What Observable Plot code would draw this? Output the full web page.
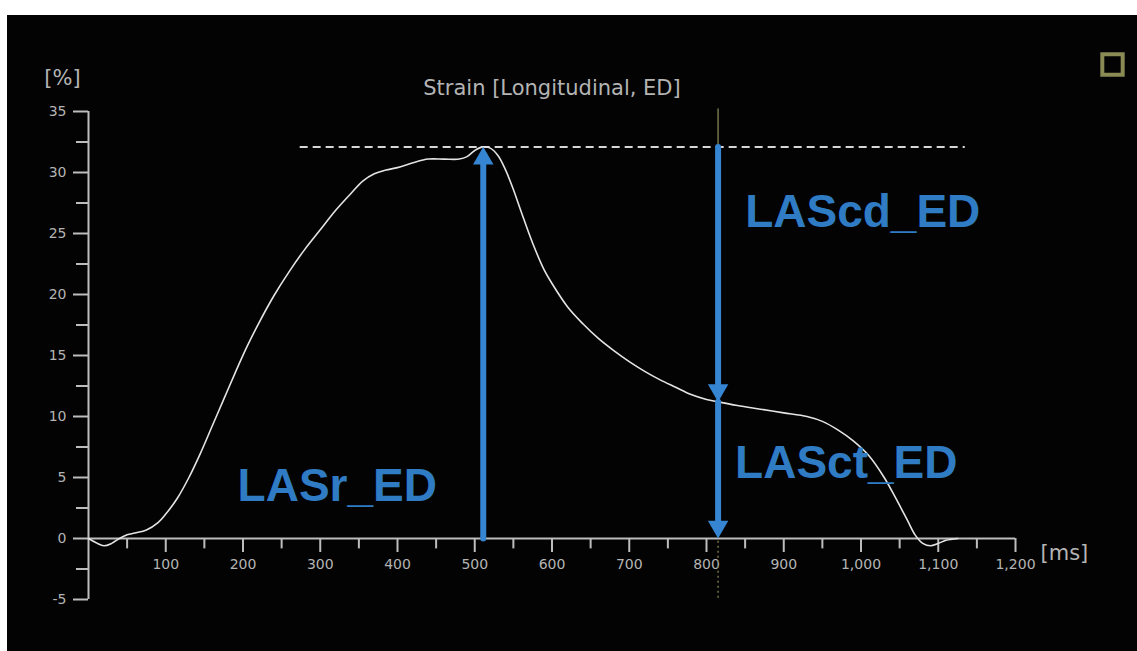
<!DOCTYPE html>
<html>
<head>
<meta charset="utf-8">
<script src="https://cdn.jsdelivr.net/npm/d3@7"></script>
<script src="https://cdn.jsdelivr.net/npm/@observablehq/plot@0.6"></script>
<style>
  html, body { margin: 0; padding: 0; background: #ffffff; }
  #panel { position: absolute; left: 7px; top: 15px; width: 1130px; height: 636px; background: #030303; overflow: hidden; }
</style>
</head>
<body>
<div id="panel"></div>
<script>
// Left atrial longitudinal strain over one cardiac cycle (ED-referenced)
const timeMs = [0, 10, 20, 30, 40, 50, 60, 75, 90, 100, 115, 130, 145, 160, 175, 190, 205, 220, 240, 260,
  280, 300, 320, 340, 355, 370, 385, 400, 420, 440, 460, 480, 490, 500, 510, 520, 530, 540, 550, 560,
  575, 590, 600, 620, 640, 660, 680, 700, 720, 740, 760, 780, 800, 815, 840, 870, 900, 930, 950, 970,
  990, 1010, 1030, 1045, 1060, 1070, 1080, 1090, 1100, 1110, 1125];
const strainPct = [0, -0.35, -0.6, -0.4, 0, 0.3, 0.45, 0.7, 1.3, 2.0, 3.3, 5.0, 7.0, 9.2, 11.4, 13.6, 15.7, 17.6, 19.9, 21.9,
  23.7, 25.3, 26.9, 28.3, 29.3, 29.9, 30.2, 30.4, 30.8, 31.1, 31.1, 31.1, 31.3, 31.8, 32.1, 32.0, 31.4, 30.2, 28.6, 26.8,
  24.2, 22.0, 20.9, 19.0, 17.6, 16.4, 15.4, 14.5, 13.7, 13.0, 12.4, 11.8, 11.4, 11.2, 10.9, 10.6, 10.3, 10.0, 9.6, 8.9,
  8.0, 6.8, 5.0, 3.3, 1.5, 0.3, -0.4, -0.6, -0.4, -0.15, 0];

// Axis ticks
const xMajorTicks = [100, 200, 300, 400, 500, 600, 700, 800, 900, 1000, 1100, 1200];
const xMinorTicks = [50, 150, 250, 350, 450, 550, 650, 750, 850, 950, 1050, 1150];
const yMajorTicks = [-5, 0, 5, 10, 15, 20, 25, 30, 35];
const yMinorTicks = [-2.5, 2.5, 7.5, 12.5, 17.5, 22.5, 27.5, 32.5];

// Phase markers
const peakTime = 511;        // reservoir peak
const peakStrain = 32.1;
const contractionTime = 815; // onset of atrial contraction
const contractionStrain = 11.2;
const peakLineStart = 274;
const peakLineEnd = 1135;

const arrowTimes = [peakTime, contractionTime, contractionTime];
const arrowFrom = [0, peakStrain, contractionStrain];
const arrowTo = [peakStrain, contractionStrain, 0];

const phaseNames = ["LASr_ED", "LAScd_ED", "LASct_ED"];
const phaseLabelTime = [193, 850, 837];
const phaseLabelStrain = [4.25, 26.7, 6.2];

const chartTitle = "Strain [Longitudinal, ED]";
const yUnit = "[%]";
const xUnit = "[ms]";

const curve = timeMs.map((t, i) => ({t, s: strainPct[i]}));
const arrows = arrowTimes.map((t, i) => ({t, from: arrowFrom[i], to: arrowTo[i]}));
const upArrows = arrows.filter(d => d.to > d.from);
const downArrows = arrows.filter(d => d.to < d.from);
const phaseLabels = phaseNames.map((name, i) => ({name, t: phaseLabelTime[i], s: phaseLabelStrain[i]}));

const axisGray = "#bdbdbd";
const labelGray = "#b4b4b4";
const blue = "#3585d2";
const labelBlue = "#2f7bc4";
const olive = "#8a8a55";
const uiFont = "DejaVu Sans";

const chart = Plot.plot({
  width: 1130,
  height: 636,
  marginLeft: 81,
  marginRight: 122,
  marginTop: 96,
  marginBottom: 52,
  style: {background: "transparent", color: labelGray, fontFamily: uiFont},
  x: {domain: [0, 1200], axis: null},
  y: {domain: [-5, 35], axis: null},
  marks: [
    // y axis
    Plot.axisY(yMajorTicks, {tickSize: 15, tickPadding: 7, stroke: axisGray, strokeWidth: 2, fill: labelGray,
      fontSize: 14, fontFamily: uiFont, label: null, tickFormat: d => String(d)}),
    Plot.axisY(yMinorTicks, {tickSize: 12, stroke: axisGray, strokeWidth: 2, text: null, label: null}),
    Plot.ruleX([0], {y1: -5, y2: 35, stroke: axisGray, strokeWidth: 2}),
    // x axis drawn along zero strain
    Plot.ruleY([0], {x1: 0, x2: 1200, stroke: axisGray, strokeWidth: 2}),
    Plot.ruleX(xMajorTicks, {x: d => d, y1: 0, y2: -1.15, stroke: axisGray, strokeWidth: 2}),
    Plot.ruleX(xMinorTicks, {x: d => d, y1: 0, y2: -0.85, stroke: axisGray, strokeWidth: 2}),
    Plot.text(xMajorTicks, {x: d => d, y: 0, dy: 26, text: d => d3.format(",")(d), fill: labelGray,
      fontSize: 14, fontFamily: uiFont}),
    // units and title
    Plot.text([yUnit], {x: 0, y: 35, dx: -26, dy: -33, text: d => d, fill: labelGray, fontSize: 21, fontFamily: uiFont}),
    Plot.text([xUnit], {x: 1200, y: 0, dx: 25, dy: 15, text: d => d, textAnchor: "start", fill: labelGray, fontSize: 21, fontFamily: uiFont}),
    Plot.text([chartTitle], {frameAnchor: "top", dy: -31, text: d => d, fill: labelGray, fontSize: 21, fontFamily: uiFont}),
    // window marker
    Plot.dot([0], {frameAnchor: "top-right", dx: 97, dy: -47, symbol: "square", r: 11.5, fill: "none", stroke: olive, strokeWidth: 4}),
    // peak reference and contraction marker
    Plot.ruleY([peakStrain], {x1: peakLineStart, x2: peakLineEnd, stroke: "#d6d6d6", strokeWidth: 2, strokeDasharray: "8,5"}),
    Plot.ruleX([contractionTime], {y1: 0, y2: 35.2, stroke: "#75754c", strokeWidth: 1.5}),
    Plot.ruleX([contractionTime], {y1: -4.9, y2: 0, stroke: "#75754c", strokeWidth: 1.5, strokeDasharray: "2,3"}),
    // strain curve
    Plot.line(curve, {x: "t", y: "s", stroke: "#e4e4e4", strokeWidth: 1.6, curve: "catmull-rom"}),
    // phase arrows
    Plot.arrow(arrows, {x1: "t", y1: "from", x2: "t", y2: "to", stroke: blue, strokeWidth: 6, headLength: 0, insetEnd: 12}),
    Plot.dot(upArrows, {x: "t", y: "to", symbol: "triangle", r: 7.6, fill: blue, dy: 11.8}),
    Plot.dot(downArrows, {x: "t", y: "to", symbol: "triangle", r: 7.6, fill: blue, rotate: 180, dy: -11.8}),
    // phase labels
    Plot.text(phaseLabels, {x: "t", y: "s", text: "name", textAnchor: "start", fill: labelBlue, fontSize: 46,
      fontWeight: "bold", fontFamily: "Liberation Sans"})
  ]
});

document.getElementById("panel").appendChild(chart);
</script>
</body>
</html>
